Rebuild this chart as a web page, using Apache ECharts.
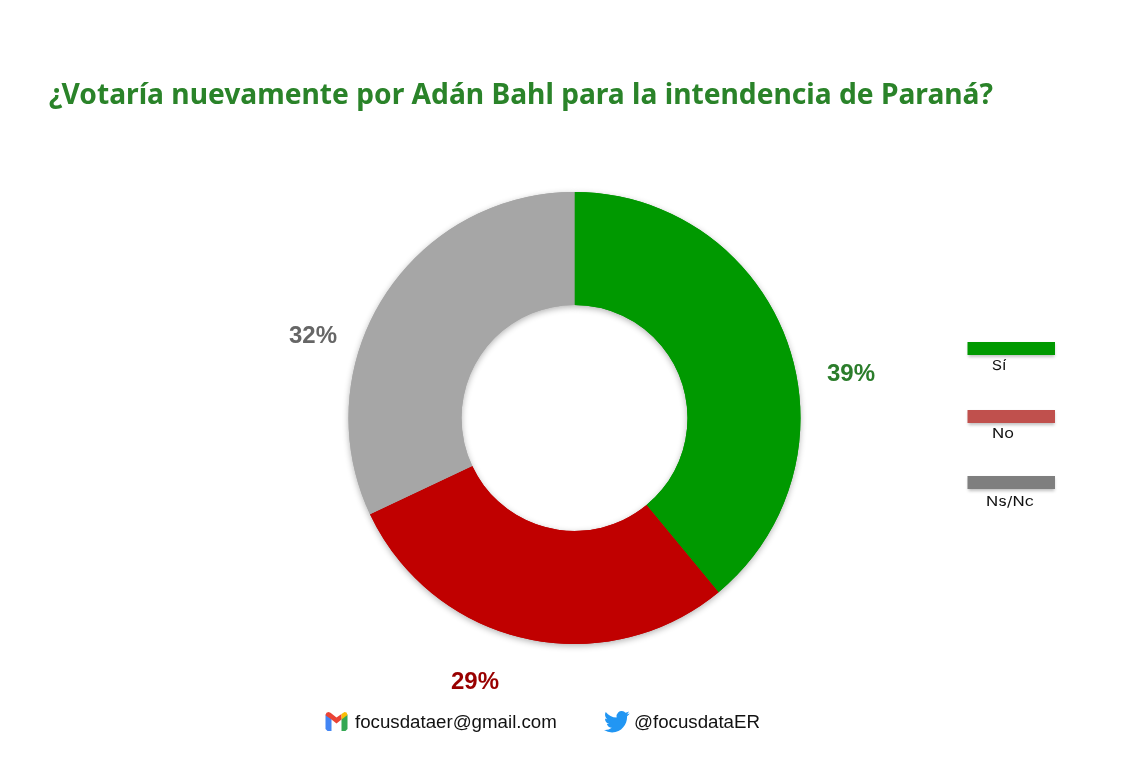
<!DOCTYPE html>
<html><head><meta charset="utf-8">
<style>html,body{margin:0;padding:0;background:#fff}#c{width:1147px;height:766px}</style>
<script src="https://cdn.jsdelivr.net/npm/echarts@6/dist/echarts.min.js"></script>
</head><body><div id="c"></div>
<script>
const titleText = '¿Votaría nuevamente por Adán Bahl para la intendencia de Paraná?';
const categories = ['Sí', 'No', 'Ns/Nc'];
const values = [39, 29, 32];
const sliceColors = ['#009900', '#c00000', '#a6a6a6'];
const labelColors = ['#2b7d2b', '#990000', '#666666'];
const legendColors = ['#009900', '#c0504d', '#7f7f7f'];
const labelPos = [[851, 374], [475, 682], [313, 336]];
const legendY = [342, 410, 476];
const legendTextX = [999, 1003, 1010];
const legendTextY = [366, 434, 502];
const email = 'focusdataer@gmail.com';
const handle = '@focusdataER';
const birdPath = 'M23.953 4.57a10 10 0 0 1-2.825.775 4.958 4.958 0 0 0 2.163-2.723c-.951.555-2.005.959-3.127 1.184a4.92 4.92 0 0 0-8.384 4.482C7.69 8.095 4.067 6.13 1.64 3.162a4.822 4.822 0 0 0-.666 2.475c0 1.71.87 3.213 2.188 4.096a4.904 4.904 0 0 1-2.228-.616v.06a4.923 4.923 0 0 0 3.946 4.827 4.996 4.996 0 0 1-2.212.085 4.936 4.936 0 0 0 4.604 3.417 9.867 9.867 0 0 1-6.102 2.105c-.39 0-.779-.023-1.17-.067a13.995 13.995 0 0 0 7.557 2.209c9.053 0 13.998-7.496 13.998-13.985 0-.21 0-.42-.015-.63A9.935 9.935 0 0 0 24 4.59z';

echarts.graphic.registerShape('bird', echarts.graphic.extendPath(birdPath, {}));

const legendGraphics = [];
categories.forEach((name, i) => {
  legendGraphics.push({
    type: 'rect', x: 967.5, y: legendY[i],
    shape: { x: 0, y: 0, width: 87.5, height: 13 },
    style: { fill: legendColors[i], shadowBlur: 3, shadowColor: 'rgba(0,0,0,0.25)', shadowOffsetY: 2 }
  });
  legendGraphics.push({
    type: 'text', x: legendTextX[i], y: legendTextY[i], scaleX: 1.2,
    style: { text: name, fill: '#111', font: '13.5px Inter', textAlign: 'center', textVerticalAlign: 'middle' }
  });
});

const pieBase = {
  type: 'pie',
  center: [574.5, 418],
  radius: [113, 226],
  startAngle: 90,
  clockwise: true,
  silent: true,
  labelLine: { show: false }
};

const chart = echarts.init(document.getElementById('c'), null, { renderer: 'canvas' });
chart.setOption({
  animation: false,
  backgroundColor: '#ffffff',
  title: {
    text: titleText, left: 44, top: 77,
    textStyle: { color: '#2a8329', fontFamily: 'Noto Sans', fontWeight: 'bold', fontSize: 28.2 }
  },
  series: [
    Object.assign({}, pieBase, {
      z: 1,
      data: categories.map((name, i) => ({ name, value: values[i], itemStyle: { color: sliceColors[i] } })),
      itemStyle: { shadowBlur: 6, shadowColor: 'rgba(0,0,0,0.3)', shadowOffsetY: 2 },
      label: { show: false }
    }),
    Object.assign({}, pieBase, {
      z: 2,
      data: categories.map((name, i) => ({
        name, value: values[i],
        itemStyle: { color: sliceColors[i] },
        label: { color: labelColors[i] }
      })),
      label: {
        show: true, position: 'outside', formatter: '{d}%',
        fontFamily: 'Liberation Sans', fontWeight: 'bold', fontSize: 24,
        align: 'center', verticalAlign: 'middle'
      },
      labelLayout: p => ({ x: labelPos[p.dataIndex][0], y: labelPos[p.dataIndex][1], align: 'center', verticalAlign: 'middle' })
    })
  ],
  graphic: legendGraphics.concat([
    { type: 'text', x: 355, y: 723, style: { text: email, fill: '#111', font: '18.7px "Liberation Sans"', textVerticalAlign: 'middle' } },
    { type: 'text', x: 634, y: 723, style: { text: handle, fill: '#111', font: '18.7px "Liberation Sans"', textVerticalAlign: 'middle' } },
    { type: 'bird', x: 604, y: 708.5, scaleX: 1.07, scaleY: 1.1, style: { fill: '#2196f3' } },
    { type: 'group', x: 325.5, y: 712, children: [
      { type: 'polygon', shape: { points: [[0,3],[1,1.5],[6,6],[6,19],[2,19],[0,17]] }, style: { fill: '#4285f4' } },
      { type: 'polygon', shape: { points: [[16,6],[21,1.5],[22,3],[22,17],[20,19],[16,19]] }, style: { fill: '#34a853' } },
      { type: 'polygon', shape: { points: [[0,3],[1,0.8],[3,0],[5,0.8],[11,5.5],[16,2],[16,7.5],[11,11.5],[6,7.5],[1,4]] }, style: { fill: '#ea4335' } },
      { type: 'polygon', shape: { points: [[16,2],[19,0],[21,0.6],[22,3],[16,7.5]] }, style: { fill: '#fbbc04' } }
    ] }
  ])
});
</script></body></html>
